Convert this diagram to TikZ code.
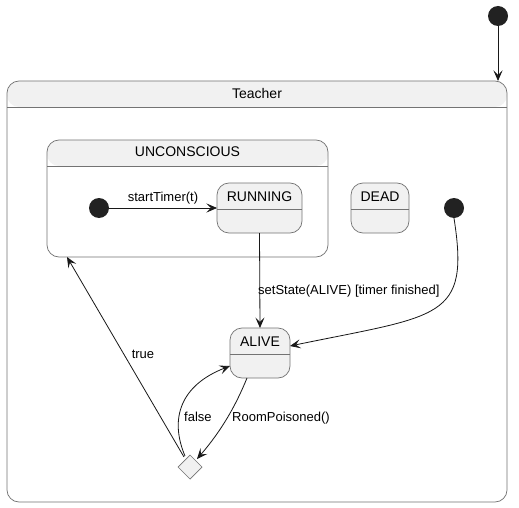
\documentclass[tikz,border=0pt]{standalone}
\usepackage{fontspec}
\setmainfont{Liberation Sans}
\usetikzlibrary{arrows.meta,shapes.geometric}
\definecolor{hdrC}{HTML}{F1F1F1}
\definecolor{lineC}{HTML}{181818}
\definecolor{edgeC}{HTML}{737373}
\definecolor{dotC}{HTML}{222222}
\begin{document}
\begin{tikzpicture}[x=1pt,y=-1pt,
  box/.style={draw=edgeC, line width=0.7pt, rounded corners=12pt, anchor=north west,
    inner sep=0pt, outer sep=0pt,
    path picture={
      \fill[hdrC] (path picture bounding box.north west) rectangle ([yshift=-26pt]path picture bounding box.north east);
      \draw[edgeC, line width=0.6pt] ([yshift=-26pt]path picture bounding box.north west) -- ([yshift=-26pt]path picture bounding box.north east);
    }},
  simplestate/.style={box, fill=hdrC},
  composite/.style={box, fill=white},
  title/.style={anchor=base, inner sep=0pt, font=\fontsize{14}{16}\selectfont},
  lbl/.style={anchor=base, inner sep=0pt, font=\fontsize{13}{15}\selectfont},
  initdot/.style={circle, fill=dotC, minimum size=20pt, inner sep=0pt},
  choice/.style={diamond, draw=edgeC, line width=0.7pt, fill=hdrC, aspect=1, minimum size=24pt, inner sep=0pt, outer sep=0pt},
  trans/.style={draw=lineC, line width=0.8pt, -{Stealth[length=10.5pt,width=9pt,inset=4.5pt]}}
]
\useasboundingbox (0,0) rectangle (519,508);

% composite states
\node[composite, minimum width=500pt, minimum height=421pt] (teacher) at (7,81) {};
\node[title] (teachertitle) at ([yshift=-18pt]teacher.north) {Teacher};
\node[composite, minimum width=281pt, minimum height=117pt] (unconscious) at (47,140) {};
\node[title] (unconscioustitle) at ([yshift=-17pt]unconscious.north) {UNCONSCIOUS};

% simple states
\node[simplestate, minimum width=85pt, minimum height=50pt] (running) at (217,183) {};
\node[title] (runningtitle) at ([yshift=-18pt]running.north) {RUNNING};
\node[simplestate, minimum width=58pt, minimum height=50pt] (dead) at (351,183) {};
\node[title] (deadtitle) at ([yshift=-18pt]dead.north) {DEAD};
\node[simplestate, minimum width=60pt, minimum height=50pt] (alive) at (230,328) {};
\node[title] (alivetitle) at ([yshift=-18pt]alive.north) {ALIVE};

% initial pseudo states and choice
\node[initdot] (start) at (498,16) {};
\node[initdot] (ustart) at (99,208) {};
\node[initdot] (tstart) at (454,208) {};
\node[choice] (decide) at (190,467) {};

% transitions
\draw[trans] (start) -- (start |- teacher.north);
\draw[trans] (ustart) -- (running);
\node[lbl] (lstart) at (163,201) {startTimer(t)};
\draw[trans] (running.south) -- (alive.north);
\node[lbl, anchor=base west] (lset) at (258,294) {setState(ALIVE) [timer finished]};
\draw[trans] (tstart.south) .. controls (470,320) and (440,315) .. ([yshift=7pt]alive.east);
\draw[trans] ([xshift=-13pt]alive.south) .. controls (236,405) and (222,430) .. ([xshift=1pt,yshift=2pt]decide.north east);
\node[lbl, anchor=base west] (lroom) at (232,421) {RoomPoisoned()};
\draw[trans] ([xshift=-5pt,yshift=-1pt]decide.north) .. controls (169,418) and (181,385) .. ([yshift=-13pt]alive.west);
\node[lbl, anchor=base west] (lfalse) at (184,421) {false};
\draw[trans] ([xshift=-6pt,yshift=-2pt]decide.north) -- ([xshift=20pt]unconscious.south west);
\node[lbl] (ltrue) at (143,358) {true};
\end{tikzpicture}
\end{document}
